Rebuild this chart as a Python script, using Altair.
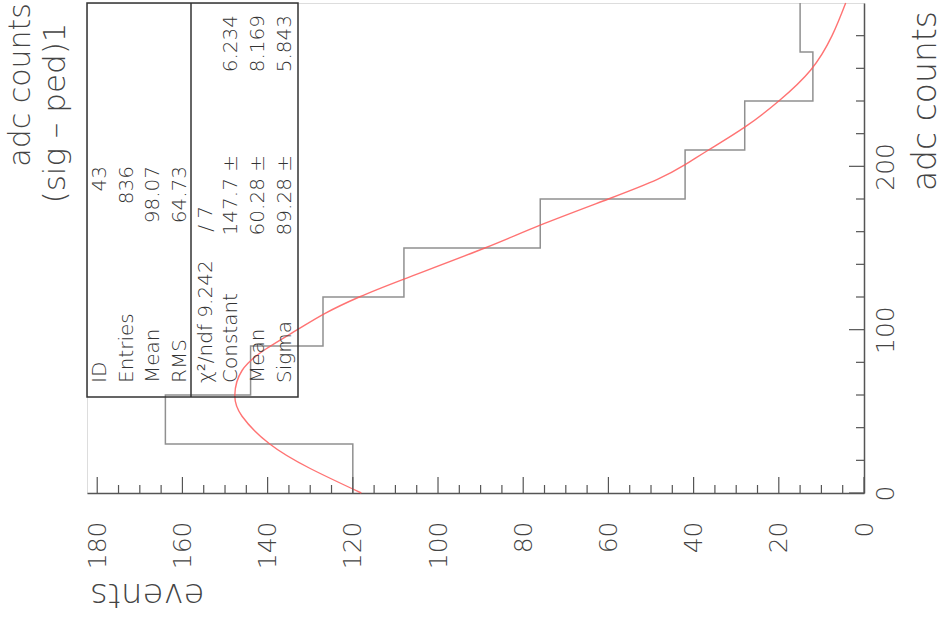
import altair as alt
import pandas as pd

# ---------------- data ----------------
# histogram: adc-count bins (width 30) and events per bin
bin_lo = [0, 30, 60, 90, 120, 150, 180, 210, 240, 270]
bin_hi = [30, 60, 90, 120, 150, 180, 210, 240, 270, 300]
counts = [120, 164, 144, 127, 108, 76, 42, 28, 12, 15]

# red fit curve
fit_adc = [0, 15, 30, 47, 60, 75, 88, 100, 110, 120, 131, 150, 164, 180, 192, 201, 210, 224, 240, 259, 280, 300]
fit_events = [118, 130, 139.5, 146, 147.7, 146, 140.5, 133, 126.5, 118.5, 108, 89, 76, 60, 48.5, 42, 36.5, 28, 20, 12.5, 7.5, 4.3]

# axis ticks / labels
events_major = [0, 20, 40, 60, 80, 100, 120, 140, 160, 180]
events_minor = [5, 10, 15, 25, 30, 35, 45, 50, 55, 65, 70, 75, 85, 90, 95, 105, 110, 115,
                125, 130, 135, 145, 150, 155, 165, 170, 175]
adc_labels = [0, 100, 200]
adc_major = [0, 100, 200]
adc_minor = [20, 40, 60, 80, 120, 140, 160, 180, 220, 240, 260, 280]

# statistics box texts
stats_labels = ["ID", "Entries", "Mean", "RMS"]
stats_values = ["43", "836", "98.07", "64.73"]
fit_labels = ["χ²/ndf 9.242", "Constant", "Mean", "Sigma"]
fit_values = ["/   7", "147.7 ±", "60.28 ±", "89.28 ±"]
fit_errors = ["", "6.234", "8.169", "5.843"]

hist_title = "(sig – ped)1"
x_title = "adc counts"
y_title = "events"

# ---------------- layout ----------------
W, H = 777, 490
FONT = "DejaVu Sans"
LIGHT = 200
XS = alt.Scale(domain=[0, 182.4], reverse=True, nice=False, zero=False)
YS = alt.Scale(domain=[0, 300], nice=False, zero=False)

AX = alt.Axis(orient="bottom", values=events_major, title=None, labelAngle=270,
              labelAlign="right", labelBaseline="middle", labelPadding=28,
              ticks=False, labelFontSize=25, labelFont=FONT, labelFontWeight=LIGHT,
              labelColor="#444", domainColor="#555", domainWidth=1.5, grid=False,
              labelOverlap=False, labelFlush=False)
AY = alt.Axis(orient="right", values=adc_labels, title=None, labelAngle=270,
              labelAlign="center", labelBaseline="top", labelPadding=9,
              ticks=False, labelFontSize=25, labelFont=FONT, labelFontWeight=LIGHT,
              labelColor="#444", domainColor="#555", domainWidth=1.5, grid=False,
              labelOverlap=False, labelFlush=False)

rows = []
for i, (lo, hi, c) in enumerate(zip(bin_lo, bin_hi, counts)):
    rows.append({"adc": lo, "events": c, "o": 2 * i})
    rows.append({"adc": hi, "events": c, "o": 2 * i + 1})
hist = pd.DataFrame(rows)
fit = pd.DataFrame({"adc": fit_adc, "events": fit_events})

hist_line = alt.Chart(hist).mark_line(color="#909090", strokeWidth=1.5).encode(
    x=alt.X("events:Q", scale=XS, axis=AX),
    y=alt.Y("adc:Q", scale=YS, axis=AY),
    order=alt.Order("o:Q"),
)

fit_line = alt.Chart(fit).mark_line(color="#ff5a5a", strokeWidth=1.4, opacity=0.85,
                                    interpolate="natural").encode(
    x=alt.X("events:Q", scale=XS, axis=AX),
    y=alt.Y("adc:Q", scale=YS, axis=AY),
    order=alt.Order("adc:Q"),
)

def xticks(vals, length):
    return alt.Chart(pd.DataFrame({"events": vals})).mark_rule(color="#555", strokeWidth=1.2).encode(
        x=alt.X("events:Q", scale=XS, axis=AX), y=alt.value(H), y2=alt.value(H - length))

def yticks(vals, length):
    return alt.Chart(pd.DataFrame({"adc": vals})).mark_rule(color="#555", strokeWidth=1.2).encode(
        y=alt.Y("adc:Q", scale=YS, axis=AY), x=alt.value(W), x2=alt.value(W - length))

one = pd.DataFrame({"d": [0]})
box = alt.Chart(one).mark_rect(fill="white", fillOpacity=0, stroke="#333", strokeWidth=1.5).encode(
    x=alt.value(0), x2=alt.value(211), y=alt.value(0), y2=alt.value(394))
divider = alt.Chart(one).mark_rule(color="#333", strokeWidth=1.5).encode(
    x=alt.value(104), y=alt.value(0), y2=alt.value(394))

def txt(s, x, y, align, size=20, angle=270, color="#333", baseline="middle"):
    return alt.Chart(pd.DataFrame({"t": [s]})).mark_text(
        angle=angle, align=align, baseline=baseline, font=FONT, fontSize=size,
        fontWeight=LIGHT, color=color
    ).encode(x=alt.value(x), y=alt.value(y), text="t:N")

layers = [hist_line, fit_line,
          xticks(events_major, 16), xticks(events_minor, 8),
          yticks(adc_major, 15), yticks(adc_minor, 8),
          box, divider]

left_cols = [13, 40, 66, 93]
right_cols = [119, 144, 171, 198]
for s, cx in zip(stats_labels, left_cols):
    layers.append(txt(s, cx, 380, "left"))
for s, cx in zip(stats_values, left_cols):
    layers.append(txt(s, cx, 163, "right"))
for s, cx in zip(fit_labels, right_cols):
    layers.append(txt(s, cx, 380, "left"))
for i, (s, cx) in enumerate(zip(fit_values, right_cols)):
    layers.append(txt(s, cx, 203 if i == 0 else 152, "right"))
for s, cx in zip(fit_errors, right_cols):
    if s:
        layers.append(txt(s, cx, 12, "right"))

# titles around the frame
layers.append(txt(y_title, 3, 591, "right", size=34, angle=180, color="#444"))
layers.append(txt(x_title, 839, 8, "right", size=33, color="#444"))
layers.append(txt(x_title, -66, 0, "right", size=30, color="#444"))
layers.append(txt(hist_title, -31, 110, "center", size=31, color="#444"))

chart = alt.layer(*layers).properties(
    width=W, height=H,
    padding={"left": 87, "top": 3, "right": 82, "bottom": 128},
    autosize=alt.AutoSizeParams(type="none"),
).configure_view(stroke="#8a8a8a", strokeWidth=1.2).configure(background="white")

chart.save("out.html", embed_options={"renderer": "svg", "actions": False})
